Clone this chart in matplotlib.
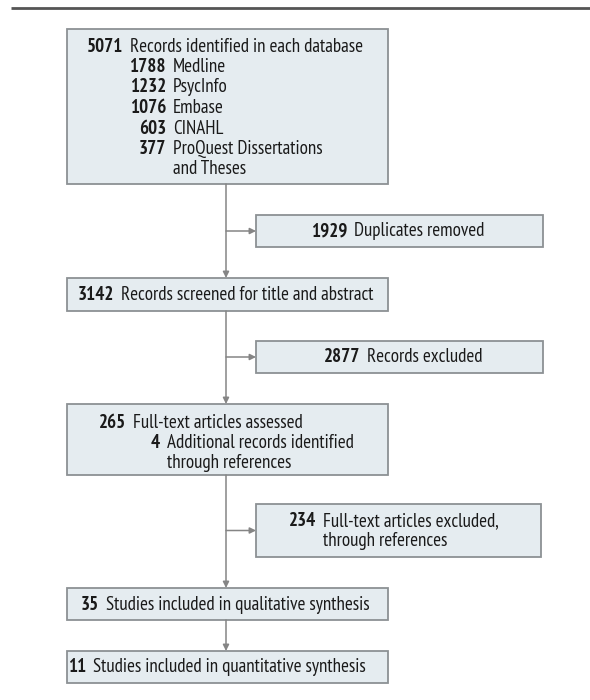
import matplotlib
matplotlib.use('Agg')
import matplotlib.pyplot as plt
from matplotlib import font_manager
from matplotlib.patches import Rectangle

# pick a narrow humanist face if one is around
installed = set(f.name for f in font_manager.fontManager.ttflist)
for fam in ['PT Sans Narrow', 'Roboto Condensed', 'Asap Condensed',
            'Fira Sans Extra Condensed', 'Fira Sans Condensed',
            'Liberation Sans Narrow', 'DejaVu Sans']:
    if fam in installed:
        break
plt.rcParams['font.family'] = [fam, 'DejaVu Sans']

# flow counts and labels
main_counts = ['5071', '3142', '265', '35', '11']
main_labels = ['Records identified in each database',
               'Records screened for title and abstract',
               'Full-text articles assessed',
               'Studies included in qualitative synthesis',
               'Studies included in quantitative synthesis']
db_counts = ['1788', '1232', '1076', '603', '377']
db_labels = ['Medline', 'PsycInfo', 'Embase', 'CINAHL', 'ProQuest Dissertations\nand Theses']
extra_count = '4'
extra_label = 'Additional records identified\nthrough references'
side_counts = ['1929', '2877', '234']
side_labels = ['Duplicates removed', 'Records excluded', 'Full-text articles excluded,\nthrough references']

FILL = '#e5ecf0'
EDGE = '#8c9194'
LINE = '#858585'
TXT = '#1a1a1a'
STEP = 20.5

# box geometry (left, top, right, bottom) in pixels
main_boxes = [(67, 29, 388, 184), (67, 278, 388, 311), (67, 404, 388, 475),
              (67, 588, 388, 620), (67, 651, 388, 683)]
side_boxes = [(256, 215, 543, 247), (256, 341, 543, 373), (256, 504, 541, 557)]
# x of number right edge
main_numx = [123, 114, 126, 99, 86]
side_numx = [347, 360, 316]
GAP = 7
CX = 226

fig = plt.figure(figsize=(5.9, 7), dpi=100)
ax = fig.add_axes([0, 0, 1, 1])
ax.set_xlim(0, 590)
ax.set_ylim(700, 0)
ax.axis('off')

# size the font so the first label spans what it spans in the reference
probe = ax.text(0, 0, main_labels[0], fontsize=10)
fig.canvas.draw()
FS = 10 * 234 / probe.get_window_extent().width
probe.remove()

ax.plot([11, 590], [8, 8], color='#555555', lw=2, solid_capstyle='butt')

def box(b):
    l, t, r, btm = b
    ax.add_patch(Rectangle((l, t), r - l, btm - t, facecolor=FILL, edgecolor=EDGE, lw=1.3))

def entry(xn, y, num, label):
    ax.text(xn, y, num, ha='right', va='baseline', fontsize=FS, fontweight='bold', color=TXT)
    ax.text(xn + GAP, y, label, ha='left', va='baseline', fontsize=FS, color=TXT)

def arrow(x0, y0, x1, y1):
    ax.annotate('', xy=(x1, y1), xytext=(x0, y0),
                arrowprops=dict(arrowstyle='-|>', color=LINE, lw=1.1,
                                mutation_scale=9, shrinkA=0, shrinkB=0))

for b in main_boxes + side_boxes:
    box(b)

# baseline offset from visual line centre
BL = 5.5

for i, b in enumerate(main_boxes):
    l, t, r, btm = b
    if i == 0:
        y = t + 17
    elif i == 2:
        y = t + 18
    else:
        y = (t + btm) / 2
    entry(main_numx[i], y + BL, main_counts[i], main_labels[i])
    if i == 0:
        k = 0
        for c, lab in zip(db_counts, db_labels):
            k += 1
            ax.text(166, y + BL + STEP * k, c, ha='right', va='baseline', fontsize=FS,
                    fontweight='bold', color=TXT)
            for part in lab.split('\n'):
                ax.text(166 + GAP, y + BL + STEP * k, part, ha='left', va='baseline',
                        fontsize=FS, color=TXT)
                k += 1
            k -= 1
    if i == 2:
        ax.text(160, y + BL + STEP, extra_count, ha='right', va='baseline', fontsize=FS,
                fontweight='bold', color=TXT)
        for j, part in enumerate(extra_label.split('\n')):
            ax.text(160 + GAP, y + BL + STEP * (j + 1), part, ha='left', va='baseline',
                    fontsize=FS, color=TXT)

for i, b in enumerate(side_boxes):
    l, t, r, btm = b
    parts = side_labels[i].split('\n')
    y = (t + btm) / 2 - STEP * (len(parts) - 1) / 2 + BL
    ax.text(side_numx[i], y, side_counts[i], ha='right', va='baseline', fontsize=FS,
            fontweight='bold', color=TXT)
    for j, part in enumerate(parts):
        ax.text(side_numx[i] + GAP, y + STEP * j, part, ha='left', va='baseline',
                fontsize=FS, color=TXT)

# connectors
for i in range(len(main_boxes) - 1):
    arrow(CX, main_boxes[i][3], CX, main_boxes[i + 1][1])
for b in side_boxes:
    ym = (b[1] + b[3]) / 2
    arrow(CX, ym, b[0], ym)

fig.savefig('out.png', dpi=100)
